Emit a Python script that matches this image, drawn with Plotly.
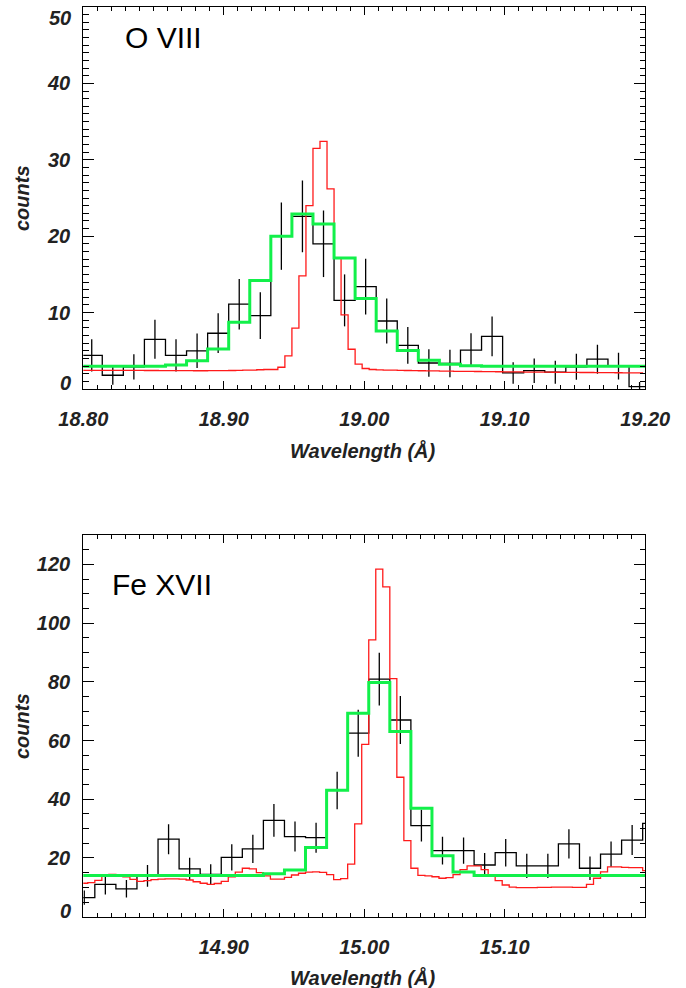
import numpy as np
import plotly.graph_objects as go

# ---------------- O VIII panel (top) ----------------
o8_first_centre = 18.806      # first observed bin centre (Angstrom)
o8_bin = 0.015                # observed bin width
o8_counts = [4.4, 1.8, 2.9, 6.5, 4.4, 5.0, 7.3, 11.1, 9.6, 20.0, 22.6, 19.0, 11.6, 13.4,
             8.9, 5.7, 3.4, 3.35, 5.1, 6.9, 2.1, 2.4, 2.2, 2.9, 3.9, 3.0, 0.3]
o8_errors = [2.1, 1.25, 1.65, 2.55, 2.1, 2.25, 2.6, 3.3, 3.05, 4.4, 4.7, 4.35, 3.4, 3.65,
             2.95, 2.4, 1.8, 1.8, 2.2, 2.6, 1.4, 1.6, 1.5, 1.7, 1.9, 1.75, 0.6]
o8_fit = [2.97, 2.97, 2.97, 2.97, 3.15, 3.7, 5.25, 8.75, 14.2, 20.0, 22.9, 21.6, 17.15, 11.85,
          7.6, 5.05, 3.75, 3.25, 3.05, 2.97, 2.97, 2.97, 2.97, 2.97, 2.97, 2.97, 2.97]
o8_fine_first = 18.801        # first fine-grid centre
o8_fine_bin = 0.005
o8_profile = [2.45, 2.45, 2.45, 2.45, 2.45, 2.44, 2.44, 2.43, 2.43, 2.42,
              2.42, 2.41, 2.41, 2.40, 2.40, 2.40, 2.39, 2.39, 2.40, 2.40,
              2.41, 2.42, 2.44, 2.46, 2.48, 2.52, 2.55, 2.55, 2.85, 4.34,
              7.96, 14.8, 24.0, 31.5, 32.4, 26.2, 17.1, 9.7, 5.2, 3.25,
              2.68, 2.55, 2.50, 2.48, 2.46, 2.44, 2.42, 2.40, 2.39, 2.37,
              2.36, 2.35, 2.33, 2.32, 2.31, 2.30, 2.29, 2.28, 2.27, 2.26,
              2.25, 2.24, 2.23, 2.22, 2.21, 2.21, 2.20, 2.19, 2.18, 2.18,
              2.17, 2.16, 2.16, 2.15, 2.14, 2.14, 2.13, 2.12, 2.12, 2.11]
o8_xticks = [18.80, 18.90, 19.00, 19.10, 19.20]
o8_yticks = [0, 10, 20, 30, 40, 50]

# ---------------- Fe XVII panel (bottom) ----------------
fe_first_centre = 14.8007
fe_bin = 0.015
fe_counts = [6.5, 11.0, 9.5, 13.9, 26.4, 16.3, 14.4, 20.2, 23.1, 32.8, 27.3, 26.9, 43.0, 62.5,
             80.9, 67.0, 31.0, 22.5, 22.5, 17.6, 21.8, 17.3, 17.3, 24.8, 16.5, 21.3, 26.1, 31.8]
fe_errors = [2.4, 3.4, 3.0, 3.7, 5.1, 3.8, 3.5, 4.5, 4.8, 5.6, 5.1, 5.1, 6.4, 8.0,
             9.0, 8.2, 5.4, 4.7, 4.5, 4.1, 4.7, 4.1, 4.1, 5.0, 4.0, 4.3, 5.1, 5.6]
fe_fit = [14.0, 14.0, 14.0, 14.0, 14.0, 14.0, 14.0, 14.0, 14.0, 14.6, 15.9, 23.6, 43.1, 69.3,
          79.8, 63.1, 36.9, 20.8, 15.2, 14.0, 14.0, 14.0, 14.0, 14.0, 14.0, 14.0, 14.0, 14.0]
fe_fine_first = 14.8007
fe_fine_bin = 0.005
fe_profile = [11.4, 11.6, 12.4, 14.0, 14.4, 14.2, 13.6, 12.7, 12.0, 12.3,
              12.6, 12.8, 12.9, 12.9, 12.8, 12.5, 11.9, 11.4, 11.0, 11.3,
              12.0, 13.6, 15.2, 16.5, 16.3, 15.0, 13.9, 12.8, 12.8, 13.4,
              14.2, 14.8, 15.2, 15.3, 15.1, 14.3, 12.6, 13.0, 17.9, 31.6,
              58.7, 94.3, 118.4, 112.3, 81.1, 47.5, 25.9, 16.5, 14.1, 13.9,
              13.6, 13.1, 13.3, 14.3, 16.0, 17.3, 17.3, 16.0, 14.0, 12.3,
              10.8, 10.1, 9.9, 9.9, 9.9, 10.0, 10.0, 10.1, 10.1, 10.1,
              10.0, 10.0, 11.0, 13.1, 15.3, 17.0, 17.0, 16.8, 16.7, 16.7,
              15.7]
fe_xticks = [14.90, 15.00, 15.10]
fe_yticks = [0, 20, 40, 60, 80, 100, 120]

# ---------------- helpers ----------------
BLACK = "#000000"
RED = "#ff1a1a"
GREEN = "#12f04a"
FONT = "Liberation Sans, Arial, Helvetica, sans-serif"
W, H = 686, 988
PX0, PX1 = 83.3, 645.2


def centres(first, step, n):
    return first + step * np.arange(n)


def steps(first, step, vals):
    c = centres(first, step, len(vals))
    xe = np.append(c - step / 2.0, c[-1] + step / 2.0)
    ye = np.append(vals, vals[-1])
    return xe, ye


fig = go.Figure()


def add_panel(xa, ya, first, step, counts, errs, fit, ffirst, fstep, prof):
    xe, ye = steps(first, step, counts)
    fig.add_trace(go.Scatter(x=xe, y=ye, mode="lines", line=dict(shape="hv", color=BLACK, width=1.3),
                             xaxis=xa, yaxis=ya, showlegend=False, hoverinfo="skip"))
    fig.add_trace(go.Scatter(x=centres(first, step, len(counts)), y=counts, mode="markers",
                             marker=dict(size=1, color="rgba(0,0,0,0)"),
                             error_y=dict(type="data", array=errs, visible=True, thickness=1.3,
                                          width=0, color=BLACK),
                             xaxis=xa, yaxis=ya, showlegend=False, hoverinfo="skip"))
    xr, yr = steps(ffirst, fstep, prof)
    fig.add_trace(go.Scatter(x=xr, y=yr, mode="lines", line=dict(shape="hv", color=RED, width=1.3),
                             xaxis=xa, yaxis=ya, showlegend=False, hoverinfo="skip"))
    xg, yg = steps(first, step, fit)
    fig.add_trace(go.Scatter(x=xg, y=yg, mode="lines", line=dict(shape="hv", color=GREEN, width=3),
                             xaxis=xa, yaxis=ya, showlegend=False, hoverinfo="skip"))


add_panel("x", "y", o8_first_centre, o8_bin, o8_counts, o8_errors, o8_fit,
          o8_fine_first, o8_fine_bin, o8_profile)
add_panel("x2", "y2", fe_first_centre, fe_bin, fe_counts, fe_errors, fe_fit,
          fe_fine_first, fe_fine_bin, fe_profile)

tickfont = dict(family=FONT, size=20, color="#222222", weight="bold", style="italic")
common = dict(showline=True, linecolor=BLACK, linewidth=1.3, mirror="allticks", ticks="inside",
              tickcolor=BLACK, tickwidth=1.2, showgrid=False, zeroline=False, tickfont=tickfont,
              automargin=False)

xdom = [PX0 / W, PX1 / W]
top_dom = [(H - 389.0) / H, (H - 7.0) / H]
bot_dom = [(H - 916.7) / H, (H - 535.0) / H]

fig.update_layout(
    width=W, height=H, margin=dict(l=0, r=0, t=0, b=0, autoexpand=False),
    paper_bgcolor="white", plot_bgcolor="white",
    xaxis=dict(domain=xdom, range=[18.80, 19.20], anchor="y", tickvals=o8_xticks,
               ticktext=[f"{v:.2f}" for v in o8_xticks], ticklen=8, ticklabelstandoff=12,
               minor=dict(ticks="inside", ticklen=4, dtick=0.01, tick0=18.80, tickcolor=BLACK,
                          tickwidth=1.2), **common),
    yaxis=dict(domain=top_dom, range=[0, 50], anchor="x", tickvals=o8_yticks,
               ticktext=["" if v in (o8_yticks[0], o8_yticks[-1]) else str(v) for v in o8_yticks],
               ticklen=11, ticklabelstandoff=8,
               minor=dict(ticks="inside", ticklen=5.5, dtick=1, tick0=0, tickcolor=BLACK,
                          tickwidth=1.2), **common),
    xaxis2=dict(domain=xdom, range=[14.80, 15.20], anchor="y2", tickvals=fe_xticks,
                ticktext=[f"{v:.2f}" for v in fe_xticks], ticklen=8, ticklabelstandoff=12,
                minor=dict(ticks="inside", ticklen=4, dtick=0.01, tick0=14.80, tickcolor=BLACK,
                           tickwidth=1.2), **common),
    yaxis2=dict(domain=bot_dom, range=[0, 130], anchor="x2", tickvals=fe_yticks,
                ticktext=["" if v == 0 else str(v) for v in fe_yticks],
                ticklen=11, ticklabelstandoff=8,
                minor=dict(ticks="inside", ticklen=5.5, dtick=5, tick0=0, tickcolor=BLACK,
                           tickwidth=1.2), **common),
)

lab = dict(family=FONT, size=20, color="#222222", weight="bold", style="italic")
ann = []
# edge tick labels (nudged inside the frame as in the original)
ann.append(dict(text="0", xref="paper", yref="y", x=72.5 / W, y=0, xanchor="right",
                yanchor="middle", yshift=6.5, showarrow=False, font=lab))
ann.append(dict(text="50", xref="paper", yref="y", x=72.5 / W, y=50, xanchor="right",
                yanchor="middle", yshift=-11, showarrow=False, font=lab))
ann.append(dict(text="0", xref="paper", yref="y2", x=72.5 / W, y=0, xanchor="right",
                yanchor="middle", yshift=6, showarrow=False, font=lab))
# axis titles
ann.append(dict(text="Wavelength (Å)", xref="paper", yref="paper", x=363 / W, y=(H - 451) / H,
                xanchor="center", yanchor="middle", showarrow=False, font=lab))
ann.append(dict(text="Wavelength (Å)", xref="paper", yref="paper", x=363 / W, y=(H - 977) / H,
                xanchor="center", yanchor="middle", showarrow=False, font=lab))
ann.append(dict(text="counts", xref="paper", yref="paper", x=22 / W, y=(H - 198) / H,
                xanchor="center", yanchor="middle", textangle=-90, showarrow=False, font=lab))
ann.append(dict(text="counts", xref="paper", yref="paper", x=22 / W, y=(H - 726) / H,
                xanchor="center", yanchor="middle", textangle=-90, showarrow=False, font=lab))
# ion labels
ion = dict(family=FONT, size=30, color="#000000")
ann.append(dict(text="O VIII", xref="paper", yref="paper", x=123 / W, y=(H - 38) / H,
                xanchor="left", yanchor="middle", showarrow=False, font=ion))
ann.append(dict(text="Fe XVII", xref="paper", yref="paper", x=110 / W, y=(H - 584) / H,
                xanchor="left", yanchor="middle", showarrow=False, font=ion))
fig.update_layout(annotations=ann)

fig.write_html("out.html")
